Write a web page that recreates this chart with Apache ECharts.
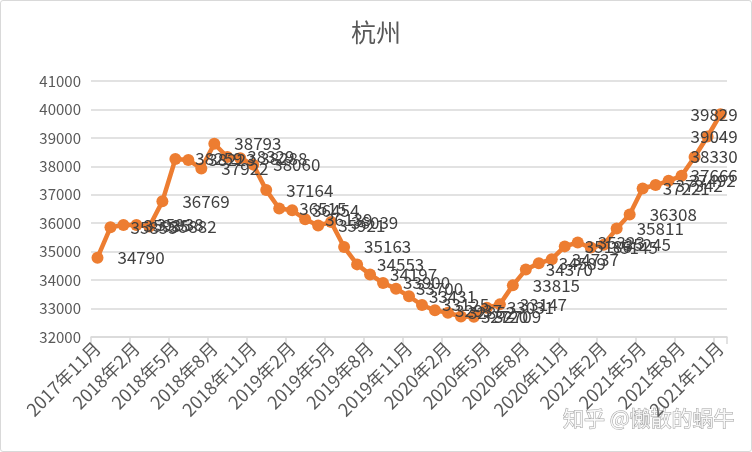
<!DOCTYPE html>
<html>
<head>
<meta charset="utf-8">
<script src="https://cdn.jsdelivr.net/npm/echarts@6/dist/echarts.min.js"></script>
<style>
html,body{margin:0;padding:0;background:#fff;}
#c{width:752px;height:452px;box-sizing:border-box;border:1px solid #d9d9d9;border-radius:3px;}
</style>
</head>
<body>
<div id="c"></div>
<script>
const titleText = '杭州';
const categories = [
 '2017年11月','2017年12月',
 '2018年1月','2018年2月','2018年3月','2018年4月','2018年5月','2018年6月','2018年7月','2018年8月','2018年9月','2018年10月','2018年11月','2018年12月',
 '2019年1月','2019年2月','2019年3月','2019年4月','2019年5月','2019年6月','2019年7月','2019年8月','2019年9月','2019年10月','2019年11月','2019年12月',
 '2020年1月','2020年2月','2020年3月','2020年4月','2020年5月','2020年6月','2020年7月','2020年8月','2020年9月','2020年10月','2020年11月','2020年12月',
 '2021年1月','2021年2月','2021年3月','2021年4月','2021年5月','2021年6月','2021年7月','2021年8月','2021年9月','2021年10月','2021年11月'
];
const prices = [
 34790, 35855,
 35935, 35938, 35882, 36769, 38259, 38223, 37922, 38793, 38329, 38288, 38060, 37164,
 36515, 36454, 36139, 35921, 36039, 35163, 34553, 34197, 33900, 33700, 33431, 33125,
 32937, 32852, 32720, 32709, 33031, 33147, 33815, 34370, 34589, 34737, 35186, 35323,
 35145, 35245, 35811, 36308, 37221, 37342, 37492, 37666, 38330, 39049, 39829
];
const yMin = 32000, yMax = 41000, yStep = 1000;
const watermark = '知乎 @懒散的蜗牛';

const chart = echarts.init(document.getElementById('c'));
// labels near the right edge are pulled back inside the chart (as in the source)
const n = prices.length;
const shiftBack = {[n-1]: -50, [n-2]: -37, [n-3]: -24, [n-4]: -11};
const seriesData = prices.map((v, i) => {
  if (shiftBack[i] !== undefined) {
    return {value: v, label: {offset: [shiftBack[i], 0]}};
  }
  return v;
});

chart.setOption({
  animation: false,
  title: {
    text: titleText, left: 'center', top: 14,
    textStyle: {fontFamily: 'Noto Sans CJK SC', fontSize: 25, fontWeight: 'normal', color: '#595959'}
  },
  grid: {left: 90, right: 24, top: 80, bottom: 114},
  xAxis: {
    type: 'category', data: categories, boundaryGap: true,
    axisLine: {lineStyle: {color: '#d9d9d9', width: 1.5}},
    axisTick: {show: true, interval: 2, length: 7, lineStyle: {color: '#d9d9d9', width: 1.5}},
    axisLabel: {interval: 2, rotate: 45, margin: 8, color: '#595959', fontSize: 18, fontFamily: 'Noto Sans CJK SC'},
    splitLine: {show: false}
  },
  yAxis: {
    type: 'value', min: yMin, max: yMax, interval: yStep,
    axisLine: {show: false}, axisTick: {show: false},
    axisLabel: {color: '#595959', fontSize: 15, margin: 10, fontFamily: 'Noto Sans CJK SC', formatter: v => String(v)},
    splitLine: {lineStyle: {color: '#d9d9d9', width: 1.5}}
  },
  series: [{
    type: 'line', data: seriesData,
    lineStyle: {color: '#ED7D31', width: 4.5},
    itemStyle: {color: '#ED7D31'},
    symbol: 'circle', symbolSize: 12, showAllSymbol: true,
    label: {show: true, position: 'right', distance: 14, color: '#404040', fontSize: 17, fontFamily: 'Noto Sans CJK SC'}
  }],
  graphic: [{
    type: 'text', right: 16, top: 406,
    style: {text: watermark, fontSize: 21, fontFamily: 'Noto Sans CJK SC', fill: 'rgba(255,255,255,0.85)', stroke: 'rgba(150,150,150,0.9)', lineWidth: 1}
  }]
});
</script>
</body>
</html>
